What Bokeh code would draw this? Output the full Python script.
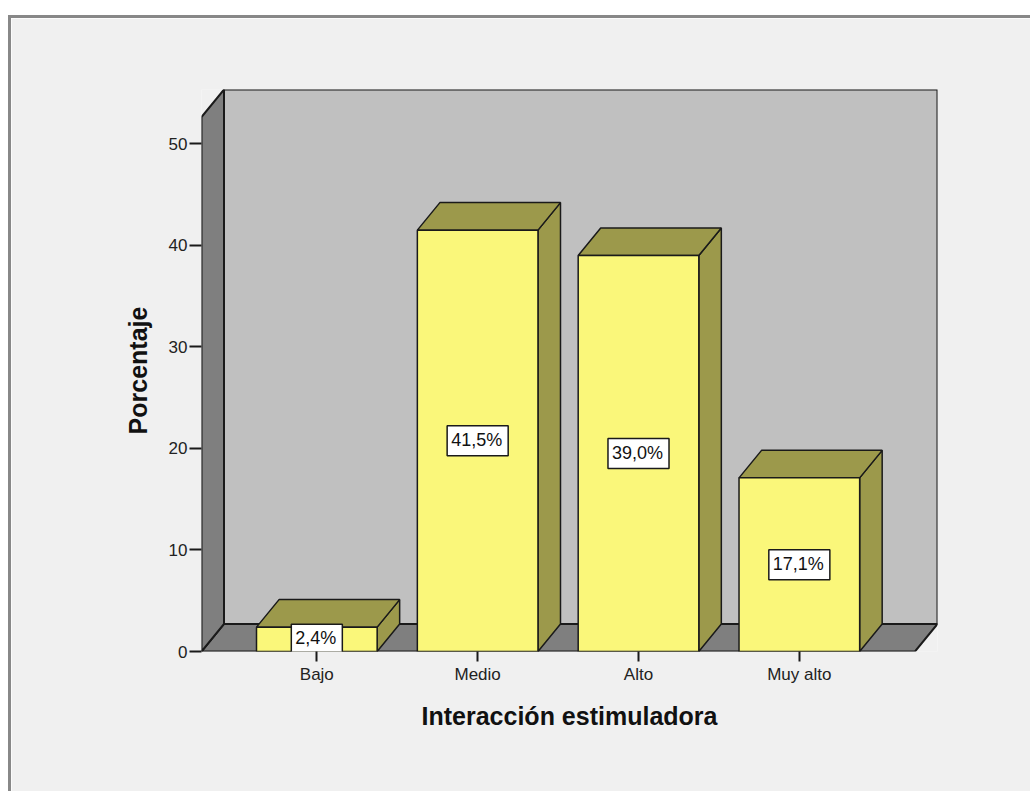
from bokeh.plotting import figure
from bokeh.models import Range1d, FixedTicker, ColumnDataSource
from bokeh.core.properties import value
from bokeh.embed import file_html
from bokeh.resources import INLINE

# ---- data ----
categorias = ["Bajo", "Medio", "Alto", "Muy alto"]
porcentajes = [2.4, 41.5, 39.0, 17.1]
y_ticks = [0, 10, 20, 30, 40, 50]
x_title = "Interacción estimuladora"
y_title = "Porcentaje"

# ---- style / geometry constants ----
BG = "#f0f0f0"
WALL = "#c0c0c0"
PANEL = "#7f7f7f"
FRONT = "#faf77a"
SIDE = "#9c994b"
EDGE = "#1a1a1a"
BAR_W = 0.75
DX = 0.14          # depth offset in x units
DY = 2.71          # depth offset in y units
X_LO, X_HI = -0.217, 4.219
Y_TOP = 52.64

xs = [i + 0.5 for i in range(len(categorias))]

p = figure(width=1022, height=776, output_backend="svg", toolbar_location=None,
           x_range=Range1d(X_LO, X_HI + DX), y_range=Range1d(0, Y_TOP + DY),
           min_border_left=190, min_border_right=96, min_border_top=71,
           min_border_bottom=143)
p.styles = {"position": "relative", "left": "8px", "margin-top": "15px",
            "margin-bottom": "-8px",
            "border-top": "3px solid #888888",
            "border-left": "3px solid #888888"}
p.background_fill_color = BG
p.border_fill_color = BG
p.outline_line_color = None
p.grid.visible = False

# back wall
p.quad(left=[X_LO + DX], right=[X_HI + DX], bottom=[DY], top=[Y_TOP + DY],
       fill_color=WALL, line_color=EDGE, line_width=2)
# floor
p.patch([X_LO, X_LO + DX, X_HI + DX, X_HI], [0, DY, DY, 0],
        fill_color=PANEL, line_color=EDGE, line_width=2)
# left side panel
p.patch([X_LO, X_LO + DX, X_LO + DX, X_LO], [0, DY, Y_TOP + DY, Y_TOP],
        fill_color=PANEL, line_color=EDGE, line_width=2)

# 3D bars
side_x, side_y, top_x, top_y = [], [], [], []
for x, v in zip(xs, porcentajes):
    l, r = x - BAR_W / 2, x + BAR_W / 2
    side_x.append([r, r + DX, r + DX, r])
    side_y.append([0, DY, v + DY, v])
    top_x.append([l, l + DX, r + DX, r])
    top_y.append([v, v + DY, v + DY, v])
p.patches(side_x, side_y, fill_color=SIDE, line_color=EDGE, line_width=1.5)
p.patches(top_x, top_y, fill_color=SIDE, line_color=EDGE, line_width=1.5)

src = ColumnDataSource(dict(
    left=[x - BAR_W / 2 for x in xs], right=[x + BAR_W / 2 for x in xs],
    top=porcentajes, bottom=[0] * len(xs), x=xs,
    ymid=[v / 2 for v in porcentajes],
    lab=[f"{v:.1f}".replace(".", ",") + "%" for v in porcentajes]))
p.quad(left="left", right="right", top="top", bottom="bottom", source=src,
       fill_color=FRONT, line_color=EDGE, line_width=1.5)

p.text(x="x", y="ymid", text="lab", source=src, text_align="center",
       text_baseline="middle", text_font=value("Liberation Sans"),
       text_font_size="18px", text_color="#111111",
       background_fill_color="white", border_line_color=EDGE,
       border_line_width=1.5, padding=[4, 6, 4, 6])

# axes
p.xaxis.ticker = FixedTicker(ticks=xs)
p.xaxis.major_label_overrides = {x: c for x, c in zip(xs, categorias)}
p.yaxis.ticker = FixedTicker(ticks=y_ticks)
for ax in (p.xaxis[0], p.yaxis[0]):
    ax.axis_line_color = None
    ax.major_tick_line_color = EDGE
    ax.major_tick_line_width = 2
    ax.minor_tick_line_color = None
    ax.major_tick_in = 0
    ax.major_label_text_font = "Liberation Sans"
    ax.major_label_text_font_size = "17px"
    ax.major_label_text_color = "#222222"
    ax.axis_label_text_font = "Liberation Sans"
    ax.axis_label_text_font_style = "bold"
    ax.axis_label_text_font_size = "25px"
    ax.axis_label_text_color = "#111111"
p.xaxis.major_tick_out = 10
p.yaxis.major_tick_out = 12
p.xaxis.major_label_standoff = 3
p.yaxis.major_label_standoff = 2
p.xaxis.axis_label = x_title
p.yaxis.axis_label = y_title
p.xaxis.axis_label_standoff = 15
p.yaxis.axis_label_standoff = 14

open("out.html", "w").write(file_html(p, INLINE))
